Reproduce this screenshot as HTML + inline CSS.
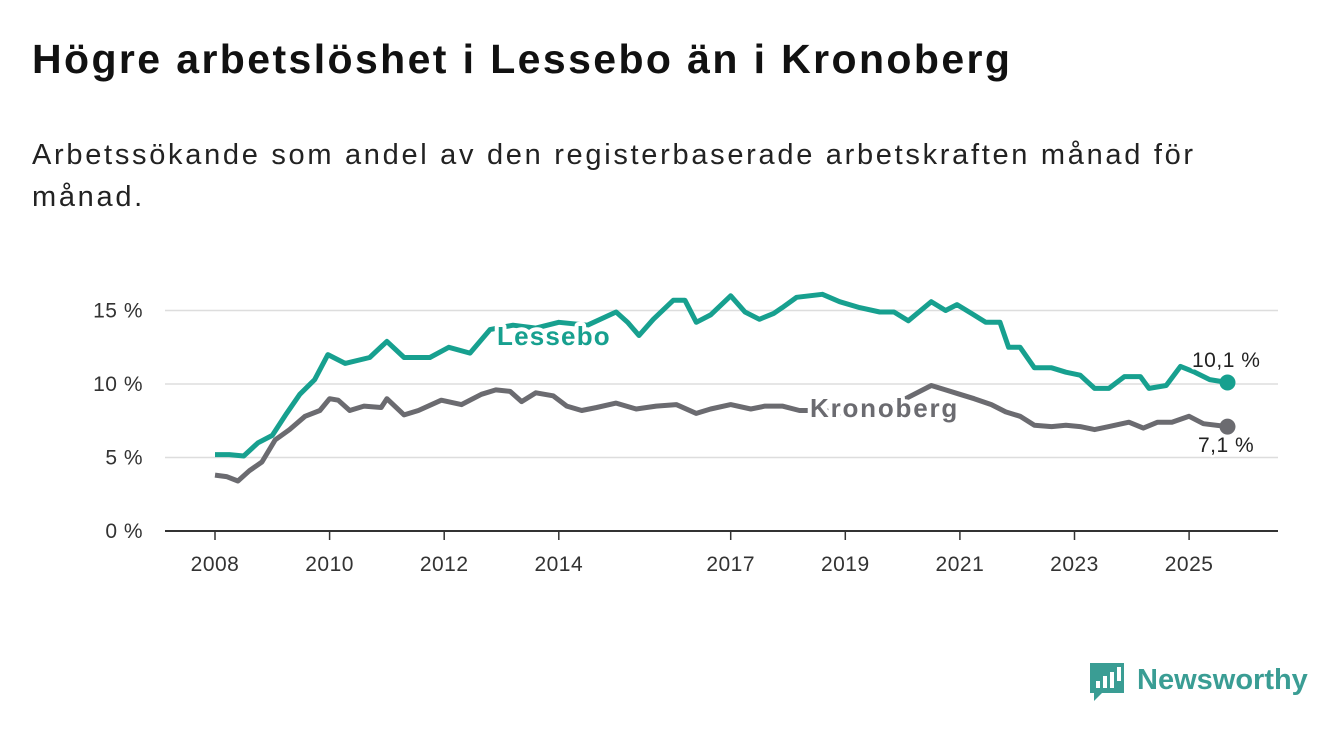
<!DOCTYPE html>
<html><head><meta charset="utf-8">
<style>
body{margin:0;width:1340px;height:734px;background:#fff;font-family:"Liberation Sans",sans-serif;overflow:hidden;position:relative}
h1{position:absolute;left:32px;top:36px;margin:0;font-size:41px;letter-spacing:2.4px;font-weight:bold;color:#111;white-space:nowrap}
p{position:absolute;left:32px;top:134px;margin:0;font-size:29px;letter-spacing:2.7px;line-height:42px;color:#222;width:1250px;white-space:nowrap}
svg{position:absolute;left:0;top:0}
</style></head><body>
<h1>Högre arbetslöshet i Lessebo än i Kronoberg</h1>
<p>Arbetssökande som andel av den registerbaserade arbetskraften månad för<br>månad.</p>
<svg id="chart" width="1340" height="734"></svg>
<script>
const yTicks=[0,5,10,15];
const xTicks=[2008,2010,2012,2014,2017,2019,2021,2023,2025];
const lesYears=[2008.0,2008.25,2008.5,2008.75,2009.0,2009.25,2009.48,2009.74,2009.97,2010.27,2010.7,2011.0,2011.3,2011.75,2012.08,2012.45,2012.8,2013.2,2013.6,2014.0,2014.5,2015.0,2015.2,2015.4,2015.65,2016.0,2016.2,2016.4,2016.65,2017.0,2017.25,2017.5,2017.75,2017.9,2018.15,2018.6,2018.9,2019.25,2019.6,2019.85,2020.1,2020.5,2020.75,2020.95,2021.2,2021.45,2021.7,2021.85,2022.05,2022.3,2022.6,2022.85,2023.1,2023.35,2023.6,2023.87,2024.15,2024.3,2024.6,2024.85,2025.1,2025.36,2025.67];
const lesValues=[5.2,5.2,5.1,6.0,6.5,8.0,9.3,10.3,12.0,11.4,11.8,12.9,11.8,11.8,12.5,12.1,13.7,14.0,13.8,14.2,14.0,14.9,14.2,13.3,14.4,15.7,15.7,14.2,14.7,16.0,14.9,14.4,14.8,15.2,15.9,16.1,15.6,15.2,14.9,14.9,14.3,15.6,15.0,15.4,14.8,14.2,14.2,12.5,12.5,11.1,11.1,10.8,10.6,9.7,9.7,10.5,10.5,9.7,9.9,11.2,10.8,10.3,10.1];
const kroYears=[2008.0,2008.2,2008.4,2008.6,2008.82,2009.05,2009.3,2009.57,2009.83,2010.0,2010.15,2010.35,2010.6,2010.9,2011.0,2011.3,2011.55,2011.95,2012.3,2012.65,2012.9,2013.15,2013.35,2013.6,2013.9,2014.14,2014.4,2014.66,2015.0,2015.35,2015.7,2016.05,2016.4,2016.65,2017.0,2017.35,2017.6,2017.9,2018.2,2018.6,2019.0,2019.5,2020.0,2020.5,2020.75,2021.0,2021.25,2021.55,2021.8,2022.05,2022.3,2022.6,2022.85,2023.1,2023.35,2023.6,2023.95,2024.2,2024.45,2024.7,2025.0,2025.25,2025.67];
const kroValues=[3.8,3.7,3.4,4.1,4.7,6.2,6.9,7.8,8.2,9.0,8.9,8.2,8.5,8.4,9.0,7.9,8.2,8.9,8.6,9.3,9.6,9.5,8.8,9.4,9.2,8.5,8.2,8.4,8.7,8.3,8.5,8.6,8.0,8.3,8.6,8.3,8.5,8.5,8.2,8.2,8.0,8.1,8.9,9.9,9.6,9.3,9.0,8.6,8.1,7.8,7.2,7.1,7.2,7.1,6.9,7.1,7.4,7.0,7.4,7.4,7.8,7.3,7.1];
const NS='http://www.w3.org/2000/svg';
const svg=document.getElementById('chart');
const xS=y=>215+(y-2008)*57.3;
const yS=v=>531-v*14.7;
function mk(t,a,parent){const e=document.createElementNS(NS,t);for(const k in a)e.setAttribute(k,a[k]);(parent||svg).appendChild(e);return e;}
yTicks.forEach(t=>{
  const l=mk('line',{x1:165,x2:1278,y1:yS(t),y2:yS(t),stroke:t===0?'#333':'#ddd','stroke-width':t===0?2:1.5});
  
  
  const tx=mk('text',{x:143,y:yS(t)+7,'text-anchor':'end','font-size':21,'letter-spacing':0.5,fill:'#333'});
  tx.textContent=t+' %';
  
  
});
xTicks.forEach(t=>{
  const l=mk('line',{x1:xS(t),x2:xS(t),y1:531,y2:540,stroke:'#333','stroke-width':1.5});
  
  
  const tx=mk('text',{x:xS(t),y:571,'text-anchor':'middle','font-size':21,'letter-spacing':0.5,fill:'#333'});
  tx.textContent=t;
  
  
});
function line(ys,vs,col,name){
  const d=ys.map((y,i)=>(i?'L':'M')+xS(y).toFixed(1)+','+yS(vs[i]).toFixed(1)).join('');
  const p=mk('path',{d:d,fill:'none',stroke:col,'stroke-width':5,'stroke-linejoin':'round'});
  
  
  const n=ys.length-1;
  const c=mk('circle',{cx:xS(ys[n]),cy:yS(vs[n]),r:8,fill:col});
  
  
}
line(kroYears,kroValues,'#6b6b70','kronoberg');
line(lesYears,lesValues,'#17a08f','lessebo');
function lab(x,y,txt,col,name,bold,size,ls){
  const t=mk('text',{x:x,y:y,'font-size':size,'letter-spacing':ls,'font-weight':bold?'bold':'normal',fill:col,stroke:'#fff','stroke-width':bold?8:5,'paint-order':'stroke','stroke-linejoin':'round'});
  t.textContent=txt;
  
  
}
lab(497,345,'Lessebo','#17a08f','lessebo-label',true,26,1.2);
lab(810,417,'Kronoberg','#6b6b70','kronoberg-label',true,26,1.8);
lab(1192,367,'10,1 %','#222','lessebo-end-value',false,21,0.5);
lab(1198,452,'7,1 %','#222','kronoberg-end-value',false,21,0.5);
</script>
<svg width="1340" height="734" style="pointer-events:none">
  <path d="M1090 663h34v30h-22l-8 8v-8h-4z" fill="#3a9d94"/>
  <rect x="1096" y="681" width="4" height="7" fill="#fff"/>
  <rect x="1103" y="676" width="4" height="12" fill="#fff"/>
  <rect x="1110" y="672" width="4" height="16" fill="#fff"/>
  <rect x="1117" y="667" width="4" height="14" fill="#fff"/>
  <text x="1137" y="689" font-size="29" font-weight="bold" fill="#3a9d94" font-family="Liberation Sans, sans-serif">Newsworthy</text>
</svg>
</body></html>
